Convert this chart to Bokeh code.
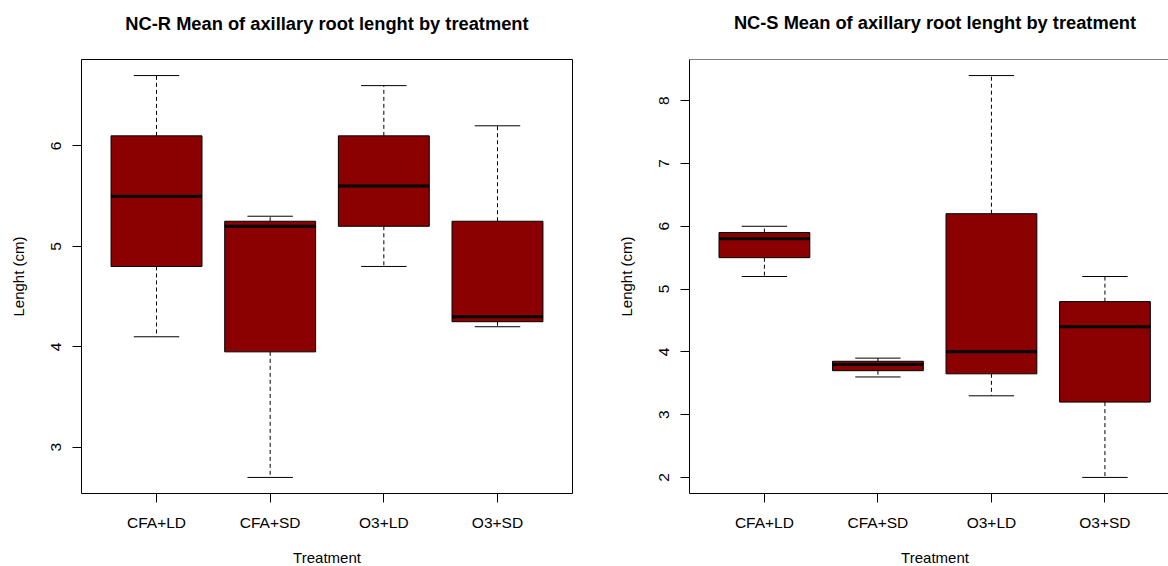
from bokeh.plotting import figure
from bokeh.layouts import row, column
from bokeh.models import ColumnDataSource, FixedTicker, Range1d, Span, Label
from bokeh.embed import file_html
from bokeh.resources import INLINE

treatments = ["CFA+LD", "CFA+SD", "O3+LD", "O3+SD"]

# NC-R: whisker ends, quartiles and medians (cm)
ncr_low = [4.1, 2.7, 4.8, 4.2]
ncr_q1 = [4.8, 3.95, 5.2, 4.25]
ncr_med = [5.5, 5.2, 5.6, 4.3]
ncr_q3 = [6.1, 5.25, 6.1, 5.25]
ncr_high = [6.7, 5.3, 6.6, 6.2]
ncr_ticks = [3, 4, 5, 6]

# NC-S: whisker ends, quartiles and medians (cm)
ncs_low = [5.2, 3.6, 3.3, 2.0]
ncs_q1 = [5.5, 3.7, 3.65, 3.2]
ncs_med = [5.8, 3.8, 4.0, 4.4]
ncs_q3 = [5.9, 3.85, 6.2, 4.8]
ncs_high = [6.0, 3.9, 8.4, 5.2]
ncs_ticks = [2, 3, 4, 5, 6, 7, 8]

BOX_FILL = "#8B0000"
FONT = "Liberation Sans"
HALF_BOX = 0.4
HALF_CAP = 0.2

PANEL_W = 584
TITLE_H = 40      # strip holding the main titles
FOOT_H = 30       # strip holding the x-axis titles
BODY_H = 566 - TITLE_H - FOOT_H
FRAME_H = 435
FULL_FRAME_W = 491  # plotting-region width for x from 0.34 to 4.66


def text_strip(text, height, x_center, y_mid, size, style):
    """A bare canvas strip carrying one line of centred text; y_mid is
    measured down from the strip's top edge."""
    s = figure(width=PANEL_W, height=height, output_backend="svg",
               toolbar_location=None, x_axis_type=None, y_axis_type=None,
               x_range=Range1d(0, 1), y_range=Range1d(0, 1), min_border=0)
    s.outline_line_color = None
    s.grid.visible = False
    s.background_fill_color = "white"
    s.border_fill_color = "white"
    s.add_layout(Label(x=x_center, y=height - y_mid, x_units="screen",
                       y_units="screen", text=text, text_align="center",
                       text_baseline="middle", text_font=FONT,
                       text_font_size=size, text_font_style=style,
                       text_color="black"))
    return s


def box_panel(low, q1, med, q3, high, yticks, *, left, right, top, x_end,
              full_frame):
    xs = [i + 1 for i in range(len(treatments))]
    lo, hi = min(low), max(high)
    pad = 0.04 * (hi - lo)
    y_start, y_end = lo - pad, hi + pad

    p = figure(width=PANEL_W, height=BODY_H, output_backend="svg",
               toolbar_location=None,
               x_range=Range1d(0.34, x_end), y_range=Range1d(y_start, y_end),
               min_border_left=left, min_border_right=right,
               min_border_top=top, min_border_bottom=BODY_H - top - FRAME_H)
    p.background_fill_color = "white"
    p.border_fill_color = "white"
    p.grid.visible = False

    src = ColumnDataSource(dict(
        x=xs,
        low=low, q1=q1, med=med, q3=q3, high=high,
        bx0=[x - HALF_BOX for x in xs], bx1=[x + HALF_BOX for x in xs],
        cx0=[x - HALF_CAP for x in xs], cx1=[x + HALF_CAP for x in xs],
    ))

    # dashed whiskers and solid staples
    p.segment(x0="x", y0="q3", x1="x", y1="high", source=src,
              line_color="black", line_width=1, line_dash="4 3")
    p.segment(x0="x", y0="q1", x1="x", y1="low", source=src,
              line_color="black", line_width=1, line_dash="4 3")
    p.segment(x0="cx0", y0="high", x1="cx1", y1="high", source=src,
              line_color="black", line_width=1)
    p.segment(x0="cx0", y0="low", x1="cx1", y1="low", source=src,
              line_color="black", line_width=1)

    # interquartile boxes and medians
    p.vbar(x="x", width=2 * HALF_BOX, bottom="q1", top="q3", source=src,
           fill_color=BOX_FILL, line_color="black", line_width=1)
    p.segment(x0="bx0", y0="med", x1="bx1", y1="med", source=src,
              line_color="black", line_width=3, line_cap="butt")

    p.xaxis.ticker = FixedTicker(ticks=xs)
    p.xaxis.major_label_overrides = {x: name for x, name in zip(xs, treatments)}
    p.yaxis.ticker = FixedTicker(ticks=yticks)
    p.yaxis.major_label_orientation = "vertical"
    p.yaxis.axis_label = "Lenght (cm)"

    p.axis.major_tick_line_color = "black"
    p.axis.major_tick_out = 9
    p.axis.major_tick_in = 0
    p.axis.minor_tick_line_color = None
    p.axis.major_label_text_font = FONT
    p.axis.major_label_text_font_size = "15.5px"
    p.axis.major_label_text_color = "black"
    p.axis.axis_label_text_font = FONT
    p.axis.axis_label_text_font_size = "15px"
    p.axis.axis_label_text_font_style = "normal"
    p.axis.axis_label_text_color = "black"
    p.xaxis.major_label_standoff = 11
    p.yaxis.major_label_standoff = 11
    p.yaxis.axis_label_standoff = 22

    if full_frame:
        p.outline_line_color = "black"
        p.axis.axis_line_color = None
    else:
        # frame runs past the page edge: draw left, bottom and top sides only
        p.outline_line_color = None
        p.axis.axis_line_color = "black"
        p.add_layout(Span(location=y_end, dimension="width",
                          line_color="black", line_width=1))
    return p


LEFT_L, RIGHT_L = 81, 105
left_mid = LEFT_L + FULL_FRAME_W / 2
right_mid = RIGHT_L + FULL_FRAME_W / 2

left_panel = box_panel(ncr_low, ncr_q1, ncr_med, ncr_q3, ncr_high, ncr_ticks,
                       left=LEFT_L, right=12, top=19, x_end=4.66,
                       full_frame=True)
right_panel = box_panel(ncs_low, ncs_q1, ncs_med, ncs_q3, ncs_high, ncs_ticks,
                        left=RIGHT_L, right=0, top=18, x_end=4.56,
                        full_frame=False)

titles = row(
    text_strip("NC-R Mean of axillary root lenght by treatment", TITLE_H,
               left_mid, 22.5, "18.3px", "bold"),
    text_strip("NC-S Mean of axillary root lenght by treatment", TITLE_H,
               right_mid, 22, "18.3px", "bold"),
)
feet = row(
    text_strip("Treatment", FOOT_H, left_mid, 21, "15px", "normal"),
    text_strip("Treatment", FOOT_H, right_mid, 20.5, "15px", "normal"),
)

layout = column(titles, row(left_panel, right_panel), feet)
open("out.html", "w").write(file_html(layout, INLINE))
